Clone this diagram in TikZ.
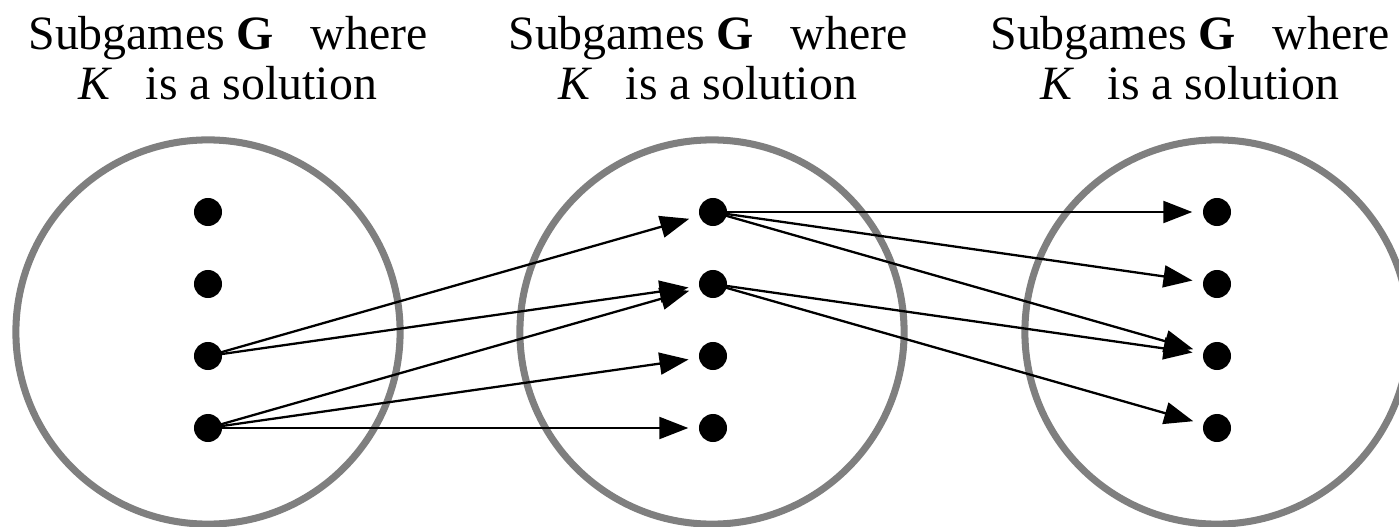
\documentclass[tikz,border=0pt]{standalone}
\usepackage{fontspec}
\setmainfont{Liberation Serif}
\usetikzlibrary{arrows.meta}
\definecolor{ringgray}{HTML}{7F7F7F}

\begin{document}
\begin{tikzpicture}[
    x=0.01cm, y=-0.01cm,
    every node/.style={font=\fontsize{13.6}{14.3}\selectfont},
    setring/.style={circle, draw=ringgray, line width=2pt, minimum size=3.84cm, inner sep=0pt},
    pt/.style={circle, fill=black, minimum size=0.28cm, inner sep=0pt},
    arr/.style={-{Triangle[length=0.29cm, width=0.22cm]}, line width=0.65pt, shorten >=0.1cm},
    heading/.style={align=center},
]

\useasboundingbox (0,0) rectangle (1399,527);

\def\dy{72}

% the three sets of subgames
\node[setring] (set1) at (208, 332) {};
\node[setring] (set2) at (712, 332) {};
\node[setring] (set3) at (1217, 332) {};

% captions
\node[heading] (head1) at (228, 58) {Subgames \textbf{G}\hspace{7pt} where\\\textit{K}\hspace{6pt} is a solution};
\node[heading] (head2) at (708, 58) {Subgames \textbf{G}\hspace{7pt} where\\\textit{K}\hspace{6pt} is a solution};
\node[heading] (head3) at (1190, 58) {Subgames \textbf{G}\hspace{7pt} where\\\textit{K}\hspace{6pt} is a solution};

% the subgames in each set
\foreach \i in {1,...,4}{
    \node[pt] (l\i) at (208, {212 + (\i-1)*\dy}) {};
    \node[pt] (m\i) at (713, {212 + (\i-1)*\dy}) {};
    \node[pt] (r\i) at (1217, {212 + (\i-1)*\dy}) {};
}

% left to middle
\draw[arr] (l3.center) -- (m1);
\draw[arr] (l3.center) -- (m2);
\draw[arr] (l4.center) -- (m2);
\draw[arr] (l4.center) -- (m3);
\draw[arr] (l4.center) -- (m4);

% middle to right
\draw[arr] (m1.center) -- (r1);
\draw[arr] (m1.center) -- (r2);
\draw[arr] (m1.center) -- (r3);
\draw[arr] (m2.center) -- (r3);
\draw[arr] (m2.center) -- (r4);

\end{tikzpicture}
\end{document}
